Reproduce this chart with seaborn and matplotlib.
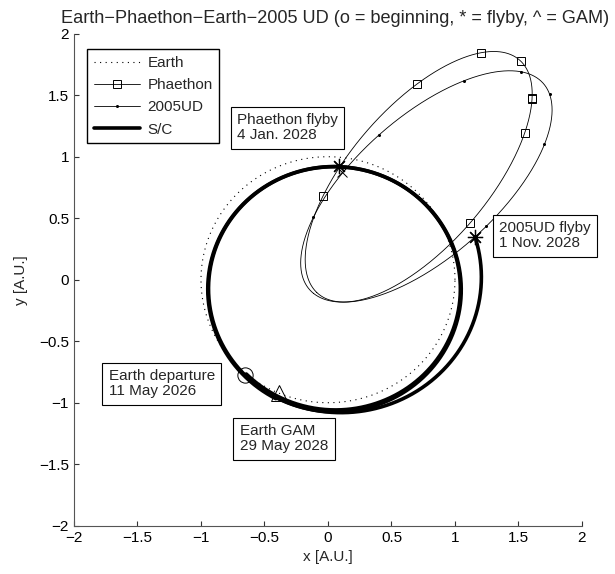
import numpy as np
import matplotlib
matplotlib.use("Agg")
import matplotlib.pyplot as plt
from matplotlib.lines import Line2D
import seaborn as sns

# Heliocentric orbital elements of the target asteroids
# a [AU], e [-], i, node, argument of perihelion [deg]
asteroid_names = ["Phaethon", "2005UD"]
asteroid_a = [1.2714, 1.275]
asteroid_e = [0.8898, 0.872]
asteroid_i = [22.26, 28.68]
asteroid_node = [265.2, 19.73]
asteroid_peri = [322.2, 207.6]

# Mean anomalies [deg] of the ephemeris epochs drawn as markers
phaethon_marker_M = [40.0, 95.6, 126.0, 127.5, 180.0, 236.4, 290.8, 345.0]
ud_marker_M = [42.4, 97.7, 153.0, 207.4, 262.3, 315.9, 347.3]

# Earth orbit
earth_a = 1.0
earth_e = 0.0

# Spacecraft transfer legs (ecliptic): a [AU], e, longitude of perihelion [deg],
# start / end true longitude [deg]
leg_a = [0.998, 0.990, 1.003, 1.104]
leg_e = [0.095, 0.090, 0.097, 0.0957]
leg_peri = [125.0, 128.0, 123.0, 190.0]
leg_start = [229.9, 590.0, 84.5, 247.0]
leg_end = [590.0, 804.5, 247.0, 376.8]

# Mission events
departure_xy = (-0.654, -0.776)
gam_xy = (-0.386, -0.924)
flyby_x = [0.089, 1.157]
flyby_y = [0.927, 0.350]
ud_cross_xy = (0.108, 0.878)

event_labels = ["Phaethon flyby\n4 Jan. 2028", "2005UD flyby\n1 Nov. 2028",
                "Earth departure\n11 May 2026", "Earth GAM\n29 May 2028"]
event_label_x = [-0.717, 1.346, -1.727, -0.695]
event_label_y = [1.237, 0.357, -0.847, -1.293]

title_text = "Earth\u2212Phaethon\u2212Earth\u22122005 UD (o = beginning, * = flyby, ^ = GAM)"
tick_values = [-2, -1.5, -1, -0.5, 0, 0.5, 1, 1.5, 2]
tick_labels = ["\u22122", "\u22121.5", "\u22121", "\u22120.5", "0", "0.5", "1", "1.5", "2"]


def orbit_frame(i, node, peri):
    i, node, peri = np.radians([i, node, peri])
    P = np.array([np.cos(node) * np.cos(peri) - np.sin(node) * np.sin(peri) * np.cos(i),
                  np.sin(node) * np.cos(peri) + np.cos(node) * np.sin(peri) * np.cos(i)])
    Q = np.array([-np.cos(node) * np.sin(peri) - np.sin(node) * np.cos(peri) * np.cos(i),
                  -np.sin(node) * np.sin(peri) + np.cos(node) * np.cos(peri) * np.cos(i)])
    return P, Q


def orbit_xy(a, e, i, node, peri, E):
    P, Q = orbit_frame(i, node, peri)
    b = a * np.sqrt(1 - e ** 2)
    u = a * (np.cos(E) - e)
    v = b * np.sin(E)
    return u * P[0] + v * Q[0], u * P[1] + v * Q[1]


def ecc_anomaly(M_deg, e):
    M = np.radians(np.asarray(M_deg))
    E = M + e * np.sin(M)
    for _ in range(50):
        E = E - (E - e * np.sin(E) - M) / (1 - e * np.cos(E))
    return E


def conic_arc(a, e, peri, th0, th1):
    th = np.radians(np.linspace(th0, th1, 800))
    r = a * (1 - e ** 2) / (1 + e * np.cos(th - np.radians(peri)))
    return r * np.cos(th), r * np.sin(th)


FS = 11

sns.set_theme(style="ticks")
plt.rcParams["font.family"] = ["Liberation Sans", "DejaVu Sans"]
plt.rcParams["font.size"] = FS

fig = plt.figure(figsize=(6.15, 5.74), dpi=100)
ax = fig.add_axes([0.1203, 0.0841, 0.8260, 0.8572])

E_full = np.linspace(0, 2 * np.pi, 1000)

# Earth orbit
ex, ey = orbit_xy(earth_a, earth_e, 0, 0, 0, E_full)
sns.lineplot(x=ex, y=ey, sort=False, estimator=None, ax=ax, color="black",
             linestyle=(0, (1, 4)), linewidth=0.8)

# Asteroid orbits and sampled positions
marker_sets = [phaethon_marker_M, ud_marker_M]
for k in range(2):
    ox, oy = orbit_xy(asteroid_a[k], asteroid_e[k], asteroid_i[k],
                      asteroid_node[k], asteroid_peri[k], E_full)
    sns.lineplot(x=ox, y=oy, sort=False, estimator=None, ax=ax, color="black",
                 linewidth=0.6)
    mx, my = orbit_xy(asteroid_a[k], asteroid_e[k], asteroid_i[k],
                      asteroid_node[k], asteroid_peri[k],
                      ecc_anomaly(marker_sets[k], asteroid_e[k]))
    if k == 0:
        ax.plot(mx, my, ls="none", marker="s", ms=6, mfc="none", mec="black", mew=0.7)
    else:
        ax.plot(mx, my, ls="none", marker="o", ms=2.2, mfc="black", mec="black", mew=0)

# Spacecraft trajectory
for k in range(len(leg_a)):
    sx, sy = conic_arc(leg_a[k], leg_e[k], leg_peri[k], leg_start[k], leg_end[k])
    sns.lineplot(x=sx, y=sy, sort=False, estimator=None, ax=ax, color="black",
                 linewidth=2.6)

# Events
ax.plot(*departure_xy, ls="none", marker="o", ms=11, mfc="none", mec="black", mew=0.7)
ax.plot(*gam_xy, ls="none", marker="^", ms=11, mfc="none", mec="black", mew=0.7)
ax.plot(flyby_x, flyby_y, ls="none", marker=(8, 2, 0), ms=11, mec="black", mew=0.9)
ax.plot(*ud_cross_xy, ls="none", marker="x", ms=7, mec="black", mew=0.7)

for s, tx, ty in zip(event_labels, event_label_x, event_label_y):
    ax.text(tx, ty, s, ha="left", va="center", fontsize=FS, linespacing=1.1,
            bbox=dict(boxstyle="square,pad=0.42", fc="white", ec="black", lw=0.8))

handles = [
    Line2D([], [], color="black", linestyle=(0, (1, 4)), linewidth=0.8),
    Line2D([], [], color="black", linewidth=0.6, marker="s", ms=6, mfc="none", mew=0.7),
    Line2D([], [], color="black", linewidth=0.6, marker="o", ms=2.2, mfc="black", mew=0),
    Line2D([], [], color="black", linewidth=2.6),
]
leg = ax.legend(handles, ["Earth", "Phaethon", "2005UD", "S/C"], loc="upper left",
                bbox_to_anchor=(0.0266, 0.968), borderaxespad=0, fancybox=False,
                framealpha=1, edgecolor="black", handlelength=3.0, labelspacing=0.54,
                handletextpad=0.5, borderpad=0.42, fontsize=FS)
leg.get_frame().set_linewidth(1.0)

ax.set_xlim(-2, 2)
ax.set_ylim(-2, 2)
ax.set_xticks(tick_values)
ax.set_yticks(tick_values)
ax.set_xticklabels(tick_labels)
ax.set_yticklabels(tick_labels)
ax.set_xlabel("x [A.U.]", fontsize=FS, labelpad=4)
ax.set_ylabel("y [A.U.]", fontsize=FS, labelpad=8)
ax.set_title(title_text, fontsize=13.1, pad=8, x=0.513)
sns.despine(ax=ax)
for sp in ["left", "bottom"]:
    ax.spines[sp].set_color("#555555")
    ax.spines[sp].set_linewidth(0.8)
ax.tick_params(direction="in", length=3.5, width=0.8, color="#333333",
               labelsize=FS, pad=3.5, labelcolor="black")

fig.savefig("out.png", dpi=100)
